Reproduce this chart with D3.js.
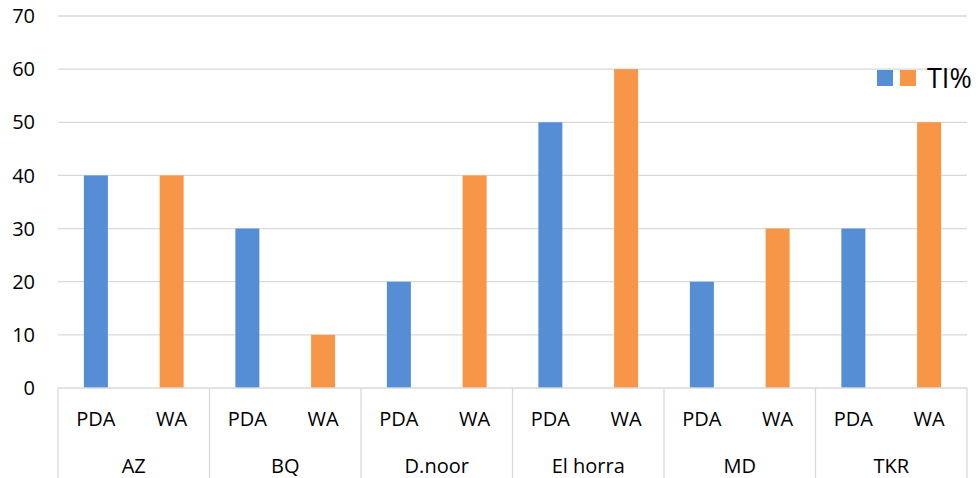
<!DOCTYPE html>
<html>
<head>
<meta charset="utf-8">
<script src="https://cdn.jsdelivr.net/npm/d3@7"></script>
<style>
  body { margin: 0; background: #fff; }
  svg { display: block; font-family: "Open Sans", sans-serif; }
</style>
</head>
<body>
<svg id="chart" width="978" height="478"></svg>
<script>
const groups = ['AZ', 'BQ', 'D.noor', 'El horra', 'MD', 'TKR'];
const series = ['PDA', 'WA'];
const pdaValues = [40, 30, 20, 50, 20, 30];
const waValues = [40, 10, 40, 60, 30, 50];
const yTicks = [0, 10, 20, 30, 40, 50, 60, 70];
const legendLabel = 'TI%';

const colors = { PDA: '#558ed5', WA: '#f79646' };
const W = 978, H = 478;
const m = { left: 58, right: 11, top: 16, bottom: 90 };
const fontSize = 20;

const svg = d3.select('#chart');

const x0 = d3.scaleBand().domain(groups).range([m.left, W - m.right]);
const x1 = d3.scaleBand().domain(series).range([0, x0.bandwidth()]);
const y = d3.scaleLinear().domain([0, 70]).range([H - m.bottom, m.top]);

const barW = 24;

// gridlines
svg.append('g')
  .selectAll('line')
  .data(yTicks.slice(1))
  .join('line')
    .attr('x1', m.left).attr('x2', W - m.right)
    .attr('y1', d => y(d)).attr('y2', d => y(d))
    .attr('stroke', '#d9d9d9').attr('stroke-width', 1.3);

// y labels
svg.append('g')
  .selectAll('text')
  .data(yTicks)
  .join('text')
    .attr('x', 35).attr('y', d => y(d))
    .attr('dy', '0.36em')
    .attr('text-anchor', 'end')
    .attr('font-size', fontSize)
    .attr('fill', '#000')
    .text(d => d);

// bars
const rows = groups.map((g, i) => ({ group: g, PDA: pdaValues[i], WA: waValues[i] }));
svg.append('g')
  .selectAll('g')
  .data(rows)
  .join('g')
    .attr('transform', d => `translate(${x0(d.group)},0)`)
  .selectAll('rect')
  .data(d => series.map(s => ({ key: s, value: d[s] })))
  .join('rect')
    .attr('x', d => x1(d.key) + (x1.bandwidth() - barW) / 2)
    .attr('width', barW)
    .attr('y', d => y(d.value))
    .attr('height', d => y(0) - y(d.value))
    .attr('fill', d => colors[d.key]);

// x axis baseline + separators
const axisG = svg.append('g');
axisG.append('line')
  .attr('x1', m.left).attr('x2', W - m.right)
  .attr('y1', y(0)).attr('y2', y(0))
  .attr('stroke', '#d9d9d9').attr('stroke-width', 1.3);

const bounds = groups.map(g => x0(g)).concat([W - m.right]);
axisG.selectAll('line.sep')
  .data(bounds)
  .join('line')
    .attr('class', 'sep')
    .attr('x1', d => d).attr('x2', d => d)
    .attr('y1', y(0)).attr('y2', H)
    .attr('stroke', '#d9d9d9').attr('stroke-width', 1.3);

// series labels
groups.forEach(g => {
  series.forEach(s => {
    axisG.append('text')
      .attr('x', x0(g) + x1(s) + x1.bandwidth() / 2)
      .attr('y', y(0) + 31)
      .attr('dy', '0.36em')
      .attr('text-anchor', 'middle')
      .attr('font-size', fontSize)
      .text(s);
  });
  axisG.append('text')
    .attr('x', x0(g) + x0.bandwidth() / 2)
    .attr('y', y(0) + 78)
    .attr('dy', '0.36em')
    .attr('text-anchor', 'middle')
    .attr('font-size', fontSize)
    .text(g);
});

// legend
const lg = svg.append('g').attr('transform', 'translate(877,70)');
series.forEach((s, i) => {
  lg.append('rect')
    .attr('x', i * 23).attr('y', 0)
    .attr('width', 16).attr('height', 16)
    .attr('fill', colors[s]);
});
lg.append('text')
  .attr('x', 50).attr('y', 8)
  .attr('dy', '0.36em')
  .attr('font-size', 27)
  .text(legendLabel);
</script>
</body>
</html>
